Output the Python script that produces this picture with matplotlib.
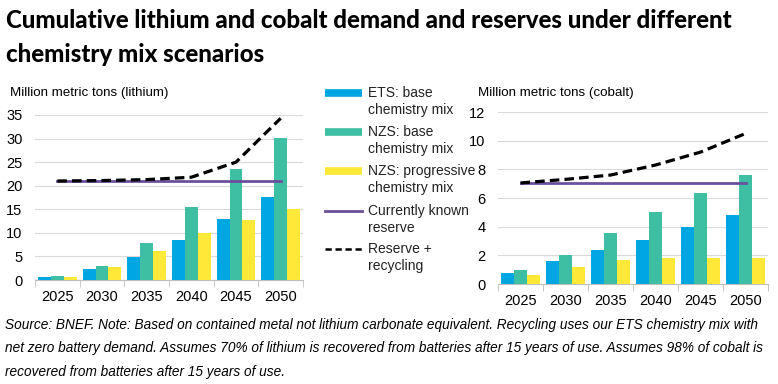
import numpy as np
import matplotlib.pyplot as plt
from matplotlib.lines import Line2D

years = ['2025', '2030', '2035', '2040', '2045', '2050']

# lithium, million metric tons
li_ets = [0.7, 2.3, 4.8, 8.5, 13.0, 17.6]
li_nzs_base = [0.9, 3.0, 7.8, 15.5, 23.5, 30.2]
li_nzs_prog = [0.6, 2.7, 6.2, 10.0, 12.8, 15.0]
li_reserve = [21.0] * 6
li_reserve_recyc = [21.0, 21.1, 21.3, 21.8, 25.0, 34.3]

# cobalt, million metric tons
co_ets = [0.8, 1.6, 2.4, 3.1, 3.95, 4.8]
co_nzs_base = [0.95, 2.0, 3.55, 5.0, 6.35, 7.6]
co_nzs_prog = [0.65, 1.2, 1.7, 1.8, 1.8, 1.8]
co_reserve = [7.05] * 6
co_reserve_recyc = [7.05, 7.3, 7.6, 8.3, 9.2, 10.5]

BLUE = '#00A6E2'
TEAL = '#3EBFA3'
YELLOW = '#FFE838'
PURPLE = '#6C4F9C'
GRID = '#D9D9D9'

plt.rcParams['font.family'] = ['Liberation Sans', 'DejaVu Sans']

fig = plt.figure(figsize=(7.78, 3.84), dpi=100)


def draw(ax, ets, base, prog, reserve, recyc, ymax, step, ylabel, label_x):
    x = np.arange(len(years))
    w = 0.29
    ax.bar(x - w, ets, w, color=BLUE, zorder=3)
    ax.bar(x, base, w, color=TEAL, zorder=3)
    ax.bar(x + w, prog, w, color=YELLOW, zorder=3)
    ax.plot(x, reserve, color=PURPLE, lw=2, zorder=4)
    ax.plot(x, recyc, color='black', lw=2.3, ls=(0, (3, 1.6)), zorder=5)
    ax.set_xlim(-0.5, len(years) - 0.5)
    ax.set_ylim(0, ymax)
    ax.set_yticks(np.arange(0, ymax + 0.01, step))
    ax.yaxis.grid(True, color=GRID, lw=0.8, zorder=0)
    ax.set_axisbelow(True)
    for s in ['top', 'right', 'left']:
        ax.spines[s].set_visible(False)
    ax.spines['bottom'].set_color('#BFBFBF')
    ax.set_xticks(x)
    ax.set_xticklabels(years)
    ax.set_xticks(np.arange(-0.5, len(years), 1), minor=True)
    ax.tick_params(axis='x', which='major', length=0, pad=7, labelsize=10.5)
    ax.tick_params(axis='x', which='minor', length=5, color='#BFBFBF')
    ax.tick_params(axis='y', length=0, pad=9, labelsize=10.5)
    fig.text(label_x, 1 - 93 / 384, ylabel, fontsize=9.6, va='center', ha='left')


ax1 = fig.add_axes([35 / 778, 1 - 280 / 384, 268 / 778, 165 / 384])
draw(ax1, li_ets, li_nzs_base, li_nzs_prog, li_reserve, li_reserve_recyc,
     35, 5, 'Million metric tons (lithium)', 10 / 778)

ax2 = fig.add_axes([498 / 778, 1 - 284 / 384, 270 / 778, 172 / 384])
draw(ax2, co_ets, co_nzs_base, co_nzs_prog, co_reserve, co_reserve_recyc,
     12, 2, 'Million metric tons (cobalt)', 478 / 778)

# legend, drawn by hand so the key lines up with the first text line
entries = [
    (dict(color=BLUE, lw=5.5, solid_capstyle='butt'), 'ETS: base\nchemistry mix'),
    (dict(color=TEAL, lw=5.5, solid_capstyle='butt'), 'NZS: base\nchemistry mix'),
    (dict(color=YELLOW, lw=5.5, solid_capstyle='butt'), 'NZS: progressive\nchemistry mix'),
    (dict(color=PURPLE, lw=2), 'Currently known\nreserve'),
    (dict(color='black', lw=1.8, ls=(0, (2.5, 1.5))), 'Reserve +\nrecycling'),
]
rows = [93, 132, 171, 211, 249]
for (style, text), ypx in zip(entries, rows):
    yy = 1 - ypx / 384
    fig.add_artist(Line2D([325 / 778, 362 / 778], [yy, yy], **style))
    fig.text(368 / 778, yy + 7 / 384, text, fontsize=10, va='top', ha='left',
             linespacing=1.25, color='#222222')

title_font = dict(fontsize=17.3, fontweight='black', family=['Lato', 'DejaVu Sans'],
                  va='center', ha='left')
fig.text(6 / 778, 1 - 21 / 384,
         'Cumulative lithium and cobalt demand and reserves under different',
         **title_font)
fig.text(6 / 778, 1 - 55 / 384, 'chemistry mix scenarios', **title_font)

note = ('Source: BNEF. Note: Based on contained metal not lithium carbonate equivalent. '
        'Recycling uses our ETS chemistry mix with\n'
        'net zero battery demand. Assumes 70% of lithium is recovered from batteries after '
        '15 years of use. Assumes 98% of cobalt is\n'
        'recovered from batteries after 15 years of use.')
fig.text(5 / 778, 1 - 318 / 384, note, fontsize=9.8, style='italic',
         va='top', ha='left', linespacing=1.85)

fig.savefig('out.png', dpi=100)
